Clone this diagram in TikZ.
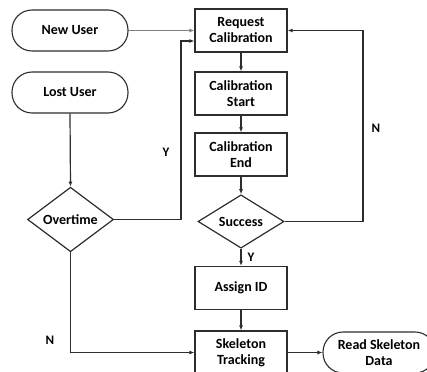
\documentclass[tikz,border=0pt]{standalone}
\usepackage{fontspec}
\setmainfont{Carlito}
\usepackage{tikz}
\usetikzlibrary{shapes.geometric, arrows.meta, calc}
\definecolor{lineg}{RGB}{45,45,45}

\tikzset{
	flowbox/.style={draw=lineg, line width=1.2pt, minimum width=92pt, minimum height=43pt, inner sep=1pt, align=center, font=\fontsize{14}{16}\selectfont\bfseries},
	terminal/.style={draw=lineg, line width=1.1pt, rounded corners=20pt, minimum width=116pt, minimum height=41pt, inner sep=1pt, align=center, font=\fontsize{14}{16}\selectfont\bfseries},
	decide/.style={draw=lineg, line width=1.2pt, diamond, inner sep=0pt, minimum width=86pt, minimum height=47pt, font=\fontsize{14}{16}\selectfont\bfseries},
	flow/.style={draw=lineg, line width=1.2pt, -{Latex[length=5pt,width=4pt]}},
	mark label/.style={font=\fontsize{13}{15}\selectfont\bfseries}
}

\begin{document}
\begin{tikzpicture}[x=1pt, y=-1pt]
		\useasboundingbox (0,0) rectangle (427,371);
		% left hand
		\node[terminal] (newuser) at (70,30.5) {New User};
		\node[terminal] (lostuser) at (70,92.5) {Lost User};
		\node[decide] (overtime) at (70.5,219.5) {Overtime};
		% main column
		\node[flowbox] (reqcal) at (241,30.5) {Request\\Calibration};
		\node[flowbox] (calstart) at (241,93.5) {Calibration\\Start};
		\node[flowbox] (calend) at (241,154.5) {Calibration\\End};
		\node[decide] (success) at (241,221.5) {Success};
		\node[flowbox] (assign) at (241,288) {Assign ID};
		\node[flowbox] (track) at (241,352.5) {Skeleton\\Tracking};
		\node[terminal, minimum width=112pt] (readdata) at (379,352.5) {Read Skeleton\\Data};
		% bends
		\coordinate (ybend) at (181,219.5);
		\coordinate (nbend) at (363,221.5);
		\coordinate (lowbend) at (70.5,352.5);
		% arrows
		\draw[flow, draw=gray] (newuser.east) -- (newuser.east -| reqcal.west);
		\draw[flow] (lostuser.south) -- (overtime.north);
		\draw[flow] (overtime.east) -- (ybend) -- (ybend |- 0,41) -- (reqcal.west |- 0,41);
		\draw[flow] (reqcal) -- (calstart);
		\draw[flow] (calstart) -- (calend);
		\draw[flow] (calend) -- (success);
		\draw[flow] (success) -- (assign);
		\draw[flow] (assign) -- (track);
		\draw[flow] (success.east) -- (nbend) -- (nbend |- reqcal.east) -- (reqcal.east);
		\draw[flow] (overtime.south) -- (lowbend) -- (track.west);
		\draw[flow] (track.east) -- (readdata.west);
		% labels
		\node[mark label] (ylab) at (166,152) {Y};
		\node[mark label] (nlab) at (376,128) {N};
		\node[mark label] (nlow) at (50,340) {N};
		\node[mark label] (ysucc) at (251,257) {Y};
	\end{tikzpicture}
\end{document}
